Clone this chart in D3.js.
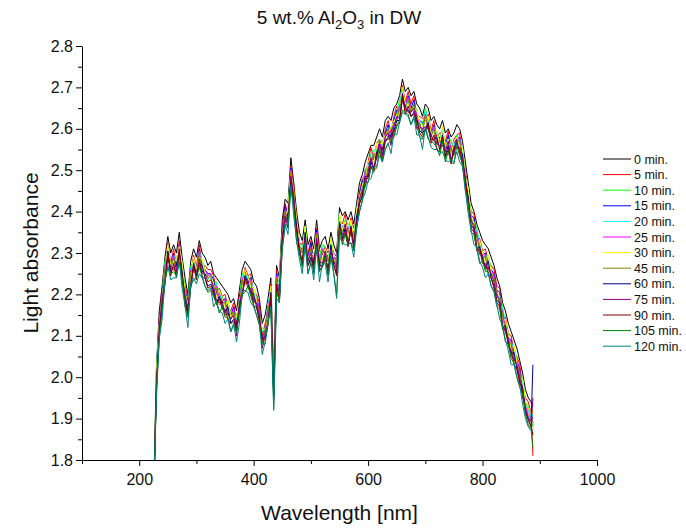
<!DOCTYPE html>
<html lang="en">
<head>
<meta charset="utf-8">
<script src="https://cdn.jsdelivr.net/npm/d3@7"></script>
<style>
body { margin: 0; background: #fff; }
text { font-family: "Liberation Sans", Arial, Helvetica, sans-serif; fill: #111; }
.axis path, .axis line { stroke: #000; stroke-width: 1; }
.axis text { font-size: 16px; fill: #111; }
.spectrum { fill: none; stroke-width: 1; stroke-linejoin: round; }
.legend text { font-size: 12.5px; }
</style>
</head>
<body>
<svg id="chart" width="686" height="529"></svg>
<script>
// wavelength grid [nm]
const wavelengths = [
  225, 230, 235, 240, 245, 250, 255, 260, 265, 270,
  275, 280, 285, 290, 295, 300, 305, 310, 315, 320,
  325, 330, 335, 340, 345, 350, 355, 360, 365, 370,
  375, 380, 385, 390, 395, 400, 405, 410, 415, 420,
  425, 430, 435, 440, 445, 450, 455, 460, 465, 470,
  475, 480, 485, 490, 495, 500, 505, 510, 515, 520,
  525, 530, 535, 540, 545, 550, 555, 560, 565, 570,
  575, 580, 585, 590, 595, 600, 605, 610, 615, 620,
  625, 630, 635, 640, 645, 650, 655, 660, 665, 670,
  675, 680, 685, 690, 695, 700, 705, 710, 715, 720,
  725, 730, 735, 740, 745, 750, 755, 760, 765, 770,
  775, 780, 785, 790, 795, 800, 805, 810, 815, 820,
  825, 830, 835, 840, 845, 850, 855, 860, 865, 870,
  875, 880, 885, 888
];

const abs0 = [
  1.70, 2.02, 2.16, 2.22, 2.29, 2.34, 2.30, 2.32, 2.30, 2.35,
  2.29, 2.24, 2.20, 2.28, 2.31, 2.29, 2.33, 2.30, 2.29, 2.27,
  2.28, 2.25, 2.24, 2.23, 2.22, 2.21, 2.20, 2.18, 2.19, 2.16,
  2.21, 2.26, 2.28, 2.27, 2.26, 2.23, 2.22, 2.19, 2.13, 2.15,
  2.19, 2.24, 2.00, 2.27, 2.24, 2.38, 2.43, 2.42, 2.53, 2.47,
  2.40, 2.35, 2.33, 2.38, 2.32, 2.34, 2.31, 2.38, 2.31, 2.33,
  2.34, 2.31, 2.35, 2.32, 2.30, 2.41, 2.39, 2.40, 2.38, 2.40,
  2.37, 2.42, 2.47, 2.49, 2.52, 2.54, 2.56, 2.56, 2.58, 2.60,
  2.58, 2.62, 2.63, 2.62, 2.65, 2.66, 2.68, 2.72, 2.69, 2.70,
  2.68, 2.69, 2.66, 2.65, 2.63, 2.66, 2.65, 2.62, 2.63, 2.61,
  2.60, 2.62, 2.59, 2.60, 2.58, 2.59, 2.61, 2.60, 2.57, 2.52,
  2.47, 2.42, 2.40, 2.37, 2.35, 2.33, 2.32, 2.31, 2.29, 2.27,
  2.24, 2.22, 2.18, 2.16, 2.13, 2.11, 2.09, 2.07, 2.04, 2.01,
  1.97, 1.95, 1.94, 1.93
];
const abs5 = [
  1.70, 1.99, 2.14, 2.215, 2.255, 2.325, 2.275, 2.31, 2.27, 2.33,
  2.26, 2.22, 2.195, 2.245, 2.295, 2.265, 2.32, 2.27, 2.27, 2.26,
  2.26, 2.245, 2.205, 2.215, 2.195, 2.20, 2.17, 2.16, 2.18, 2.13,
  2.205, 2.225, 2.265, 2.245, 2.25, 2.20, 2.20, 2.18, 2.10, 2.13,
  2.155, 2.225, 1.975, 2.26, 2.21, 2.36, 2.42, 2.39, 2.51, 2.465,
  2.385, 2.325, 2.32, 2.35, 2.30, 2.33, 2.28, 2.36, 2.305, 2.295,
  2.315, 2.30, 2.32, 2.30, 2.29, 2.38, 2.37, 2.395, 2.345, 2.385,
  2.36, 2.39, 2.45, 2.48, 2.49, 2.52, 2.555, 2.525, 2.565, 2.575,
  2.55, 2.60, 2.62, 2.59, 2.63, 2.655, 2.645, 2.705, 2.665, 2.69,
  2.66, 2.68, 2.63, 2.63, 2.625, 2.625, 2.635, 2.595, 2.62, 2.58,
  2.59, 2.59, 2.57, 2.595, 2.545, 2.575, 2.585, 2.59, 2.54, 2.50,
  2.44, 2.40, 2.395, 2.335, 2.335, 2.305, 2.31, 2.28, 2.27, 2.26,
  2.22, 2.215, 2.145, 2.145, 2.105, 2.10, 2.06, 2.05, 2.03, 1.98,
  1.95, 1.94, 1.91, 1.81
];
const abs10 = [
  1.70, 2.005, 2.12, 2.20, 2.28, 2.305, 2.275, 2.28, 2.285, 2.32,
  2.275, 2.20, 2.18, 2.27, 2.275, 2.265, 2.29, 2.285, 2.26, 2.24,
  2.24, 2.23, 2.23, 2.195, 2.195, 2.17, 2.185, 2.15, 2.16, 2.145,
  2.19, 2.25, 2.245, 2.245, 2.22, 2.215, 2.19, 2.16, 2.115, 2.11,
  2.18, 2.205, 1.975, 2.23, 2.225, 2.35, 2.40, 2.405, 2.49, 2.45,
  2.365, 2.325, 2.29, 2.365, 2.29, 2.31, 2.295, 2.34, 2.29, 2.32,
  2.315, 2.27, 2.335, 2.29, 2.27, 2.395, 2.35, 2.38, 2.37, 2.365,
  2.33, 2.405, 2.44, 2.46, 2.505, 2.50, 2.54, 2.55, 2.545, 2.575,
  2.565, 2.59, 2.60, 2.605, 2.61, 2.64, 2.67, 2.685, 2.665, 2.66,
  2.65, 2.66, 2.645, 2.61, 2.61, 2.65, 2.615, 2.595, 2.59, 2.595,
  2.57, 2.605, 2.55, 2.58, 2.57, 2.555, 2.585, 2.56, 2.555, 2.49,
  2.455, 2.38, 2.38, 2.36, 2.315, 2.305, 2.28, 2.295, 2.26, 2.24,
  2.20, 2.20, 2.17, 2.125, 2.105, 2.07, 2.075, 2.04, 2.01, 1.995,
  1.94, 1.93, 1.905, 1.88
];
const abs15 = [
  1.70, 1.975, 2.13, 2.205, 2.25, 2.315, 2.265, 2.30, 2.255, 2.32,
  2.245, 2.21, 2.185, 2.24, 2.285, 2.255, 2.31, 2.255, 2.26, 2.25,
  2.25, 2.235, 2.20, 2.205, 2.185, 2.19, 2.155, 2.15, 2.17, 2.115,
  2.195, 2.22, 2.255, 2.235, 2.24, 2.185, 2.19, 2.17, 2.085, 2.12,
  2.15, 2.215, 1.965, 2.25, 2.195, 2.35, 2.415, 2.38, 2.505, 2.435,
  2.375, 2.315, 2.31, 2.335, 2.29, 2.325, 2.27, 2.355, 2.275, 2.31,
  2.305, 2.29, 2.305, 2.29, 2.285, 2.37, 2.365, 2.365, 2.36, 2.355,
  2.35, 2.375, 2.44, 2.475, 2.48, 2.515, 2.525, 2.54, 2.535, 2.57,
  2.535, 2.59, 2.61, 2.575, 2.62, 2.645, 2.64, 2.695, 2.655, 2.68,
  2.65, 2.67, 2.615, 2.62, 2.615, 2.62, 2.625, 2.585, 2.61, 2.565,
  2.58, 2.575, 2.56, 2.585, 2.54, 2.565, 2.575, 2.58, 2.525, 2.49,
  2.425, 2.39, 2.385, 2.33, 2.325, 2.295, 2.30, 2.265, 2.26, 2.25,
  2.21, 2.205, 2.14, 2.135, 2.095, 2.09, 2.045, 2.04, 2.02, 1.965,
  1.94, 1.92, 1.91, 1.90
];
const abs20 = [
  1.70, 2.00, 2.13, 2.175, 2.275, 2.31, 2.26, 2.295, 2.28, 2.31,
  2.27, 2.21, 2.155, 2.265, 2.28, 2.25, 2.305, 2.28, 2.25, 2.235,
  2.25, 2.205, 2.225, 2.20, 2.18, 2.185, 2.18, 2.14, 2.155, 2.14,
  2.165, 2.245, 2.25, 2.23, 2.235, 2.21, 2.18, 2.155, 2.11, 2.12,
  2.175, 2.21, 1.96, 2.245, 2.22, 2.34, 2.395, 2.40, 2.50, 2.425,
  2.37, 2.31, 2.305, 2.36, 2.28, 2.305, 2.29, 2.35, 2.265, 2.315,
  2.30, 2.285, 2.33, 2.28, 2.265, 2.39, 2.36, 2.355, 2.365, 2.37,
  2.345, 2.40, 2.43, 2.455, 2.50, 2.51, 2.515, 2.545, 2.55, 2.56,
  2.56, 2.58, 2.595, 2.60, 2.62, 2.615, 2.665, 2.69, 2.65, 2.675,
  2.64, 2.655, 2.64, 2.62, 2.585, 2.645, 2.62, 2.58, 2.605, 2.59,
  2.565, 2.60, 2.56, 2.555, 2.565, 2.56, 2.57, 2.575, 2.55, 2.48,
  2.45, 2.39, 2.355, 2.355, 2.32, 2.29, 2.295, 2.29, 2.25, 2.235,
  2.21, 2.175, 2.165, 2.13, 2.09, 2.085, 2.07, 2.03, 2.005, 1.99,
  1.935, 1.92, 1.90, 1.91
];
const abs25 = [
  1.70, 1.975, 2.13, 2.17, 2.27, 2.30, 2.265, 2.295, 2.25, 2.32,
  2.245, 2.21, 2.15, 2.26, 2.27, 2.255, 2.305, 2.25, 2.26, 2.245,
  2.25, 2.20, 2.22, 2.19, 2.185, 2.185, 2.15, 2.15, 2.165, 2.115,
  2.16, 2.24, 2.24, 2.235, 2.235, 2.18, 2.19, 2.165, 2.085, 2.12,
  2.17, 2.20, 1.955, 2.245, 2.19, 2.35, 2.405, 2.375, 2.50, 2.42,
  2.36, 2.315, 2.305, 2.33, 2.29, 2.315, 2.265, 2.35, 2.26, 2.31,
  2.305, 2.285, 2.30, 2.29, 2.275, 2.365, 2.36, 2.35, 2.36, 2.36,
  2.345, 2.375, 2.44, 2.44, 2.50, 2.50, 2.525, 2.535, 2.53, 2.57,
  2.535, 2.59, 2.58, 2.60, 2.61, 2.625, 2.655, 2.67, 2.66, 2.675,
  2.65, 2.64, 2.64, 2.61, 2.595, 2.635, 2.60, 2.59, 2.605, 2.565,
  2.575, 2.575, 2.56, 2.55, 2.56, 2.55, 2.575, 2.575, 2.52, 2.49,
  2.425, 2.39, 2.35, 2.35, 2.31, 2.295, 2.295, 2.26, 2.26, 2.245,
  2.21, 2.17, 2.16, 2.12, 2.095, 2.085, 2.04, 2.04, 2.015, 1.965,
  1.93, 1.91, 1.90, 1.89
];
const abs30 = [
  1.70, 2.005, 2.125, 2.195, 2.245, 2.32, 2.27, 2.28, 2.285, 2.315,
  2.275, 2.205, 2.175, 2.235, 2.29, 2.26, 2.29, 2.285, 2.255, 2.23,
  2.245, 2.225, 2.195, 2.21, 2.19, 2.17, 2.185, 2.145, 2.15, 2.145,
  2.185, 2.215, 2.26, 2.24, 2.22, 2.215, 2.185, 2.15, 2.115, 2.115,
  2.145, 2.22, 1.97, 2.23, 2.225, 2.345, 2.39, 2.405, 2.495, 2.445,
  2.38, 2.32, 2.29, 2.365, 2.285, 2.30, 2.295, 2.345, 2.285, 2.285,
  2.31, 2.27, 2.335, 2.285, 2.26, 2.395, 2.355, 2.375, 2.335, 2.38,
  2.33, 2.405, 2.435, 2.465, 2.475, 2.52, 2.53, 2.52, 2.565, 2.565,
  2.565, 2.585, 2.59, 2.605, 2.615, 2.635, 2.635, 2.70, 2.66, 2.66,
  2.645, 2.65, 2.645, 2.615, 2.605, 2.615, 2.63, 2.59, 2.59, 2.595,
  2.56, 2.605, 2.555, 2.575, 2.535, 2.57, 2.58, 2.56, 2.555, 2.485,
  2.455, 2.385, 2.375, 2.325, 2.33, 2.30, 2.28, 2.295, 2.255, 2.23,
  2.205, 2.195, 2.135, 2.14, 2.10, 2.07, 2.075, 2.035, 2.00, 1.995,
  1.94, 1.925, 1.91, 1.92
];
const abs45 = [
  1.70, 1.97, 2.125, 2.175, 2.265, 2.285, 2.26, 2.29, 2.25, 2.31,
  2.24, 2.205, 2.155, 2.255, 2.255, 2.25, 2.30, 2.25, 2.25, 2.24,
  2.245, 2.205, 2.215, 2.175, 2.18, 2.18, 2.15, 2.14, 2.16, 2.11,
  2.165, 2.235, 2.225, 2.23, 2.23, 2.18, 2.18, 2.16, 2.08, 2.115,
  2.165, 2.185, 1.96, 2.24, 2.19, 2.34, 2.40, 2.37, 2.495, 2.425,
  2.345, 2.31, 2.30, 2.33, 2.28, 2.31, 2.26, 2.345, 2.265, 2.305,
  2.30, 2.28, 2.30, 2.28, 2.27, 2.36, 2.355, 2.355, 2.355, 2.345,
  2.34, 2.37, 2.43, 2.46, 2.47, 2.505, 2.515, 2.535, 2.525, 2.56,
  2.53, 2.58, 2.60, 2.57, 2.615, 2.615, 2.655, 2.665, 2.65, 2.67,
  2.64, 2.66, 2.61, 2.615, 2.585, 2.635, 2.595, 2.58, 2.60, 2.56,
  2.57, 2.57, 2.555, 2.555, 2.555, 2.535, 2.57, 2.57, 2.52, 2.48,
  2.42, 2.385, 2.355, 2.345, 2.295, 2.29, 2.29, 2.26, 2.25, 2.24,
  2.205, 2.175, 2.155, 2.105, 2.09, 2.08, 2.04, 2.03, 2.01, 1.96,
  1.92, 1.905, 1.89, 1.90
];
const abs60 = [
  1.70, 1.985, 2.105, 2.18, 2.23, 2.305, 2.255, 2.265, 2.27, 2.30,
  2.255, 2.185, 2.16, 2.22, 2.275, 2.245, 2.275, 2.27, 2.24, 2.22,
  2.225, 2.21, 2.18, 2.195, 2.175, 2.155, 2.17, 2.13, 2.14, 2.125,
  2.17, 2.20, 2.245, 2.225, 2.205, 2.20, 2.17, 2.14, 2.095, 2.095,
  2.13, 2.205, 1.955, 2.215, 2.21, 2.33, 2.38, 2.385, 2.475, 2.43,
  2.365, 2.305, 2.275, 2.35, 2.27, 2.29, 2.275, 2.325, 2.27, 2.27,
  2.295, 2.255, 2.32, 2.27, 2.25, 2.375, 2.335, 2.36, 2.32, 2.365,
  2.315, 2.39, 2.42, 2.44, 2.485, 2.485, 2.52, 2.50, 2.545, 2.555,
  2.55, 2.57, 2.58, 2.585, 2.595, 2.62, 2.62, 2.685, 2.645, 2.645,
  2.63, 2.64, 2.625, 2.595, 2.59, 2.60, 2.615, 2.575, 2.575, 2.58,
  2.55, 2.585, 2.535, 2.56, 2.52, 2.555, 2.565, 2.545, 2.54, 2.47,
  2.435, 2.365, 2.36, 2.31, 2.315, 2.285, 2.265, 2.28, 2.24, 2.22,
  2.185, 2.18, 2.12, 2.125, 2.085, 2.055, 2.06, 2.02, 1.99, 1.975,
  1.92, 1.90, 1.895, 2.03
];
const abs75 = [
  1.70, 1.96, 2.115, 2.19, 2.235, 2.29, 2.265, 2.26, 2.255, 2.31,
  2.23, 2.195, 2.17, 2.225, 2.26, 2.255, 2.27, 2.255, 2.25, 2.23,
  2.235, 2.22, 2.185, 2.18, 2.185, 2.15, 2.155, 2.14, 2.15, 2.10,
  2.18, 2.205, 2.23, 2.235, 2.20, 2.185, 2.18, 2.15, 2.07, 2.105,
  2.135, 2.19, 1.965, 2.21, 2.195, 2.34, 2.39, 2.36, 2.485, 2.44,
  2.35, 2.315, 2.27, 2.335, 2.28, 2.30, 2.25, 2.335, 2.28, 2.275,
  2.305, 2.25, 2.305, 2.28, 2.26, 2.35, 2.345, 2.37, 2.325, 2.35,
  2.31, 2.375, 2.43, 2.45, 2.46, 2.495, 2.53, 2.505, 2.53, 2.565,
  2.535, 2.58, 2.59, 2.56, 2.605, 2.63, 2.625, 2.67, 2.655, 2.64,
  2.64, 2.65, 2.60, 2.605, 2.60, 2.605, 2.60, 2.585, 2.57, 2.565,
  2.56, 2.56, 2.545, 2.57, 2.525, 2.54, 2.575, 2.54, 2.525, 2.48,
  2.41, 2.375, 2.37, 2.315, 2.30, 2.295, 2.26, 2.265, 2.25, 2.23,
  2.195, 2.19, 2.125, 2.11, 2.095, 2.05, 2.045, 2.03, 2.00, 1.95,
  1.925, 1.90, 1.88, 1.95
];
const abs90 = [
  1.70, 1.98, 2.10, 2.17, 2.225, 2.30, 2.245, 2.275, 2.24, 2.30,
  2.25, 2.18, 2.15, 2.215, 2.27, 2.235, 2.285, 2.24, 2.24, 2.215,
  2.22, 2.20, 2.175, 2.19, 2.165, 2.165, 2.14, 2.13, 2.135, 2.12,
  2.16, 2.195, 2.24, 2.215, 2.215, 2.17, 2.17, 2.135, 2.09, 2.09,
  2.125, 2.20, 1.945, 2.225, 2.18, 2.33, 2.375, 2.38, 2.47, 2.42,
  2.36, 2.295, 2.285, 2.32, 2.27, 2.285, 2.27, 2.32, 2.26, 2.265,
  2.285, 2.265, 2.29, 2.27, 2.245, 2.37, 2.33, 2.35, 2.315, 2.36,
  2.325, 2.36, 2.42, 2.435, 2.48, 2.48, 2.51, 2.495, 2.54, 2.545,
  2.52, 2.57, 2.575, 2.58, 2.59, 2.61, 2.615, 2.68, 2.635, 2.655,
  2.63, 2.635, 2.62, 2.59, 2.58, 2.595, 2.61, 2.565, 2.585, 2.55,
  2.545, 2.58, 2.53, 2.55, 2.515, 2.55, 2.555, 2.555, 2.51, 2.47,
  2.43, 2.36, 2.35, 2.305, 2.31, 2.275, 2.275, 2.25, 2.24, 2.215,
  2.18, 2.17, 2.115, 2.12, 2.075, 2.065, 2.03, 2.02, 1.985, 1.97,
  1.915, 1.895, 1.88, 1.86
];
const abs105 = [
  1.70, 1.97, 2.09, 2.165, 2.23, 2.265, 2.25, 2.255, 2.245, 2.28,
  2.24, 2.17, 2.145, 2.22, 2.235, 2.24, 2.265, 2.245, 2.22, 2.205,
  2.21, 2.195, 2.18, 2.155, 2.17, 2.145, 2.145, 2.11, 2.125, 2.11,
  2.155, 2.20, 2.205, 2.22, 2.195, 2.175, 2.15, 2.125, 2.08, 2.08,
  2.13, 2.165, 1.93, 2.205, 2.185, 2.31, 2.365, 2.37, 2.46, 2.415,
  2.325, 2.30, 2.265, 2.325, 2.25, 2.275, 2.26, 2.31, 2.255, 2.27,
  2.29, 2.245, 2.295, 2.25, 2.20, 2.36, 2.32, 2.345, 2.32, 2.325,
  2.305, 2.365, 2.40, 2.425, 2.47, 2.47, 2.505, 2.50, 2.505, 2.55,
  2.525, 2.55, 2.565, 2.57, 2.58, 2.605, 2.62, 2.645, 2.64, 2.635,
  2.61, 2.625, 2.61, 2.58, 2.575, 2.60, 2.575, 2.57, 2.565, 2.555,
  2.535, 2.57, 2.52, 2.545, 2.52, 2.515, 2.56, 2.535, 2.515, 2.45,
  2.42, 2.35, 2.345, 2.31, 2.275, 2.28, 2.255, 2.255, 2.22, 2.205,
  2.17, 2.165, 2.12, 2.085, 2.08, 2.045, 2.035, 2.00, 1.975, 1.96,
  1.91, 1.885, 1.875, 1.83
];
const abs120 = [
  1.70, 1.945, 2.095, 2.14, 2.235, 2.27, 2.235, 2.24, 2.24, 2.28,
  2.215, 2.175, 2.12, 2.225, 2.24, 2.225, 2.25, 2.24, 2.22, 2.21,
  2.215, 2.17, 2.185, 2.16, 2.155, 2.13, 2.14, 2.11, 2.13, 2.085,
  2.13, 2.205, 2.21, 2.205, 2.18, 2.17, 2.15, 2.13, 2.055, 2.085,
  2.135, 2.17, 1.92, 2.19, 2.18, 2.31, 2.37, 2.345, 2.465, 2.39,
  2.33, 2.285, 2.25, 2.32, 2.25, 2.28, 2.235, 2.315, 2.23, 2.275,
  2.275, 2.23, 2.29, 2.25, 2.19, 2.34, 2.325, 2.32, 2.32, 2.325,
  2.29, 2.36, 2.40, 2.43, 2.445, 2.475, 2.48, 2.505, 2.51, 2.535,
  2.52, 2.55, 2.565, 2.54, 2.59, 2.585, 2.615, 2.64, 2.635, 2.63,
  2.61, 2.63, 2.585, 2.585, 2.55, 2.605, 2.58, 2.555, 2.55, 2.55,
  2.54, 2.545, 2.525, 2.52, 2.525, 2.52, 2.545, 2.52, 2.51, 2.45,
  2.395, 2.355, 2.32, 2.315, 2.28, 2.265, 2.24, 2.25, 2.22, 2.21,
  2.175, 2.14, 2.125, 2.09, 2.065, 2.03, 2.03, 2.00, 1.98, 1.935,
  1.90, 1.88, 1.87, 1.87
];

const seriesNames = ["0 min.", "5 min.", "10 min.", "15 min.", "20 min.", "25 min.", "30 min.",
                     "45 min.", "60 min.", "75 min.", "90 min.", "105 min.", "120 min."];
const seriesColors = ["#000000", "#ff0000", "#00ff00", "#0000ff", "#00ffff", "#ff00ff", "#ffff00",
                      "#808000", "#000080", "#800080", "#800000", "#008000", "#008080"];
const seriesValues = [abs0, abs5, abs10, abs15, abs20, abs25, abs30,
                      abs45, abs60, abs75, abs90, abs105, abs120];

const xMajor = [200, 400, 600, 800, 1000];
const xMinor = [100, 300, 500, 700, 900];
const yMajor = [1.8, 1.9, 2.0, 2.1, 2.2, 2.3, 2.4, 2.5, 2.6, 2.7, 2.8];
const yMinor = [1.85, 1.95, 2.05, 2.15, 2.25, 2.35, 2.45, 2.55, 2.65, 2.75];

const plotLeft = 82, plotRight = 597, plotTop = 46, plotBottom = 460;

const svg = d3.select("#chart");

const x = d3.scaleLinear().domain([100, 1000]).range([plotLeft, plotRight]);
const y = d3.scaleLinear().domain([1.8, 2.8]).range([plotBottom, plotTop]);

svg.append("defs").append("clipPath").attr("id", "plotclip")
  .append("rect")
  .attr("x", plotLeft).attr("y", plotTop)
  .attr("width", plotRight - plotLeft).attr("height", plotBottom - plotTop);

// spectra
const line = d3.line()
  .x((d, i) => x(wavelengths[i]))
  .y(d => y(d));

svg.append("g")
  .attr("clip-path", "url(#plotclip)")
  .selectAll("path")
  .data(seriesValues)
  .join("path")
  .attr("class", "spectrum")
  .attr("stroke", (d, i) => seriesColors[i])
  .attr("d", line);

// axes
svg.append("g")
  .attr("class", "axis")
  .attr("transform", `translate(0,${plotBottom})`)
  .call(d3.axisBottom(x).tickValues(xMinor).tickSize(4).tickSizeOuter(0).tickFormat(""))
  .call(g => g.select(".domain").remove());

svg.append("g")
  .attr("class", "axis")
  .attr("transform", `translate(0,${plotBottom})`)
  .call(d3.axisBottom(x).tickValues(xMajor).tickSize(6).tickSizeOuter(0).tickPadding(8)
    .tickFormat(d3.format("d")));

svg.append("g")
  .attr("class", "axis")
  .attr("transform", `translate(${plotLeft},0)`)
  .call(d3.axisLeft(y).tickValues(yMinor).tickSize(4).tickSizeOuter(0).tickFormat(""))
  .call(g => g.select(".domain").remove());

svg.append("g")
  .attr("class", "axis")
  .attr("transform", `translate(${plotLeft},0)`)
  .call(d3.axisLeft(y).tickValues(yMajor).tickSize(6).tickSizeOuter(0).tickPadding(3)
    .tickFormat(d3.format(".1f")));

// title with subscripts
const title = svg.append("text")
  .attr("x", 339).attr("y", 24)
  .attr("text-anchor", "middle")
  .style("font-size", "19px");
title.append("tspan").text("5 wt.% Al");
title.append("tspan").attr("dy", 5).style("font-size", "13px").text("2");
title.append("tspan").attr("dy", -5).text("O");
title.append("tspan").attr("dy", 5).style("font-size", "13px").text("3");
title.append("tspan").attr("dy", -5).text(" in DW");

// axis titles
svg.append("text")
  .attr("transform", `translate(38,${(plotTop + plotBottom) / 2}) rotate(-90)`)
  .attr("text-anchor", "middle")
  .style("font-size", "21px")
  .text("Light absorbance");

svg.append("text")
  .attr("x", (plotLeft + plotRight) / 2).attr("y", 520)
  .attr("text-anchor", "middle")
  .style("font-size", "21px")
  .text("Wavelength [nm]");

// legend
const legend = svg.append("g").attr("class", "legend");
const rows = legend.selectAll("g")
  .data(seriesNames)
  .join("g")
  .attr("transform", (d, i) => `translate(603,${159 + i * 15.6})`);
rows.append("line")
  .attr("x1", 0).attr("x2", 28)
  .attr("y1", 0).attr("y2", 0)
  .attr("stroke", (d, i) => seriesColors[i])
  .attr("stroke-width", 1);
rows.append("text")
  .attr("x", 31).attr("y", 4.5)
  .text(d => d);
</script>
</body>
</html>
